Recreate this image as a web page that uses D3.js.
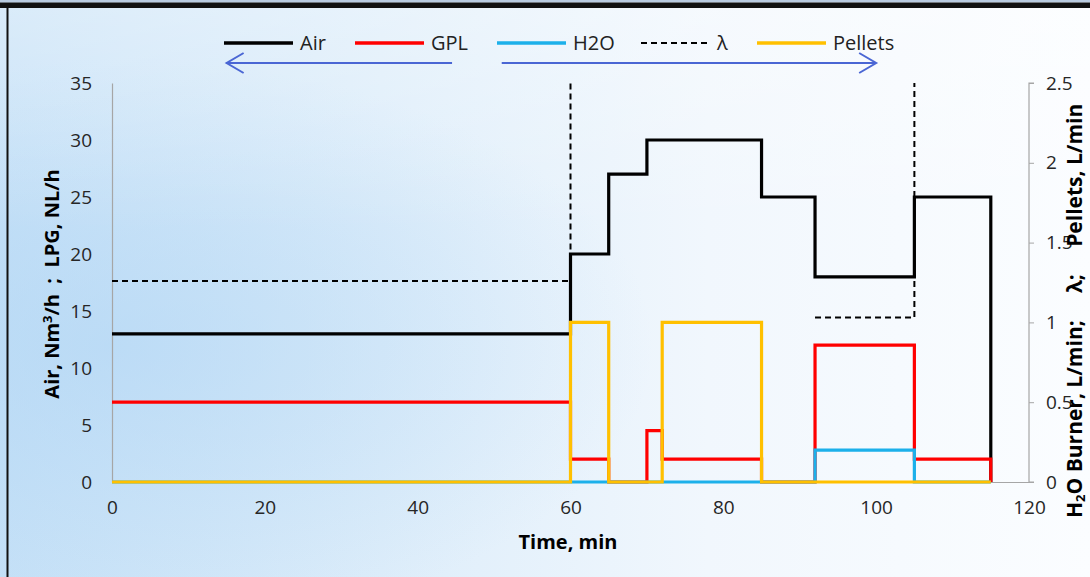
<!DOCTYPE html>
<html>

<head>
	<title>Step test</title>
	<meta charset="UTF-8">
	<script src="https://d3js.org/d3.v7.min.js"></script>
	<style>
		body { margin: 0; overflow: hidden; }
		text { font-family: "Open Sans", sans-serif; }
	</style>
</head>

<body>
	<svg width="1090" height="577"></svg>
	<script>
		var width = 1090;
		var height = 577;

		// step series: time where each level starts, and the level
		const airT = [0, 60, 65, 70, 85, 92, 105, 115];
		const airV = [13, 20, 27, 30, 25, 18, 25, 0];

		const gplT = [0, 60, 65, 70, 72, 85, 92, 105, 115];
		const gplV = [7, 2, 0, 4.5, 2, 0, 12, 2, 0];

		const h2oT = [0, 92, 105, 115];
		const h2oV = [0, 0.2, 0, 0];

		const pelletsT = [0, 60, 65, 72, 85, 115];
		const pelletsV = [0, 1, 0, 1, 0, 0];

		// lambda goes off the top (no fuel) -> NaN breaks the line
		const lambdaT = [0, 60, 60, 60, 92, 105, 105];
		const lambdaV = [1.26, 1.26, 2.5, NaN, 1.03, 1.03, 2.5];

		const xTicks = [0, 20, 40, 60, 80, 100, 120];
		const yLeftTicks = [0, 5, 10, 15, 20, 25, 30, 35];
		const yRightTicks = [0, 0.5, 1, 1.5, 2, 2.5];

		const legendNames = ["Air", "GPL", "H2O", "\u03bb", "Pellets"];

		const svg = d3.select("svg");

		// background like the slide
		const defs = svg.append("defs");
		const lg = defs.append("linearGradient").attr("id", "bg")
			.attr("x1", "0").attr("y1", "0").attr("x2", "1").attr("y2", "0");
		lg.append("stop").attr("offset", "0%").attr("stop-color", "#c6e1f7");
		lg.append("stop").attr("offset", "35%").attr("stop-color", "#ddedfa");
		lg.append("stop").attr("offset", "65%").attr("stop-color", "#f1f7fd");
		lg.append("stop").attr("offset", "100%").attr("stop-color", "#fbfdff");
		const rg = defs.append("radialGradient").attr("id", "glow")
			.attr("cx", "0.1").attr("cy", "0.6").attr("r", "0.5");
		rg.append("stop").attr("offset", "0%").attr("stop-color", "#aed4f4").attr("stop-opacity", 0.55);
		rg.append("stop").attr("offset", "100%").attr("stop-color", "#aed4f4").attr("stop-opacity", 0);
		const tg = defs.append("linearGradient").attr("id", "topfade")
			.attr("x1", "0").attr("y1", "0").attr("x2", "0").attr("y2", "1");
		tg.append("stop").attr("offset", "0%").attr("stop-color", "#ffffff").attr("stop-opacity", 0.35);
		tg.append("stop").attr("offset", "40%").attr("stop-color", "#ffffff").attr("stop-opacity", 0);

		svg.append("rect").attr("width", width).attr("height", height).attr("fill", "url(#bg)");
		svg.append("rect").attr("width", width).attr("height", height).attr("fill", "url(#glow)");
		svg.append("rect").attr("width", width).attr("height", height).attr("fill", "url(#topfade)");

		// frame of the slide
		svg.append("rect").attr("x", 0).attr("y", 0).attr("width", width).attr("height", 2.5).attr("fill", "#b9cbe0");
		svg.append("rect").attr("x", 0).attr("y", 2.5).attr("width", width).attr("height", 5.5).attr("fill", "#111");
		svg.append("rect").attr("x", 6.5).attr("y", 8).attr("width", 2).attr("height", height).attr("fill", "#111");

		// scales
		const x = d3.scaleLinear().domain([0, 120]).range([112, 1029]);
		const yL = d3.scaleLinear().domain([0, 35]).range([482, 83]);
		const yR = d3.scaleLinear().domain([0, 2.5]).range([482, 83]);

		// axes
		const gx = svg.append("g").attr("transform", "translate(0,482)")
			.call(d3.axisBottom(x).tickValues(xTicks).tickSize(0).tickPadding(19));
		const gl = svg.append("g").attr("transform", "translate(112,0)")
			.call(d3.axisLeft(yL).tickValues(yLeftTicks).tickSize(0).tickPadding(20));
		const gr = svg.append("g").attr("transform", "translate(1029,0)")
			.call(d3.axisRight(yR).tickValues(yRightTicks).tickSize(5).tickPadding(12)
				.tickFormat(d3.format("")));

		[gx, gl, gr].forEach(g => {
			g.select(".domain").attr("stroke", "#a6a6a6").attr("stroke-width", 1.2);
			g.selectAll(".tick line").attr("stroke", "#a6a6a6");
			g.selectAll(".tick text").attr("fill", "#262626").style("font-size", "19px");
		});
		gr.select(".domain").attr("d", "M5,83H0V482H5");

		// axis titles
		svg.append("text")
			.attr("x", 568).attr("y", 549)
			.attr("text-anchor", "middle")
			.style("font-size", "20px").style("font-weight", "bold")
			.text("Time, min");

		svg.append("text")
			.attr("transform", "translate(59,284) rotate(-90)")
			.attr("text-anchor", "middle")
			.style("font-size", "20px").style("font-weight", "bold")
			.html("Air, Nm<tspan dy='-7' style='font-size:13px'>3</tspan><tspan dy='7'>/h&#160;&#160;;&#160;&#160;LPG, NL/h</tspan>");

		svg.append("text")
			.attr("transform", "translate(1082,518) rotate(-90)")
			.attr("text-anchor", "start")
			.style("font-size", "21px").style("font-weight", "bold")
			.html("H<tspan dy='3' style='font-size:13px'>2</tspan><tspan dy='-3'>O Burner, L/min;&#160;&#160;&#160;&#160;&#160;\u03bb;&#160;&#160;&#160;&#160;&#160;Pellets, L/min</tspan>");

		// lines
		function pts(T, V) { return T.map((t, i) => [t, V[i]]); }

		const stepL = d3.line().x(d => x(d[0])).y(d => yL(d[1])).curve(d3.curveStepAfter);
		const stepR = d3.line().x(d => x(d[0])).y(d => yR(d[1])).curve(d3.curveStepAfter);
		const lamLine = d3.line().defined(d => !isNaN(d[1]))
			.x(d => x(d[0])).y(d => yR(d[1]));

		svg.append("path").datum(pts(lambdaT, lambdaV))
			.attr("d", lamLine).attr("fill", "none")
			.attr("stroke", "#000").attr("stroke-width", 2).attr("stroke-dasharray", "6,4");

		svg.append("path").datum(pts(airT, airV))
			.attr("d", stepL).attr("fill", "none")
			.attr("stroke", "#000").attr("stroke-width", 3.2);

		svg.append("path").datum(pts(gplT, gplV))
			.attr("d", stepL).attr("fill", "none")
			.attr("stroke", "#ff0000").attr("stroke-width", 3.2);

		svg.append("path").datum(pts(h2oT, h2oV))
			.attr("d", stepR).attr("fill", "none")
			.attr("stroke", "#1cb0ea").attr("stroke-width", 3.2);

		svg.append("path").datum(pts(pelletsT, pelletsV))
			.attr("d", stepR).attr("fill", "none")
			.attr("stroke", "#ffc000").attr("stroke-width", 3.2);

		// legend
		const legendX = [224, 355, 497, 641, 757];
		const legendColor = ["#000", "#ff0000", "#1cb0ea", "#000", "#ffc000"];
		const lgd = svg.append("g").selectAll("g")
			.data(legendNames)
			.enter()
			.append("g")
			.attr("transform", (d, i) => "translate(" + legendX[i] + ",43)");
		lgd.append("line")
			.attr("x1", 0).attr("x2", 69).attr("y1", 0).attr("y2", 0)
			.attr("stroke", (d, i) => legendColor[i])
			.attr("stroke-width", (d, i) => i == 3 ? 2 : 3.5)
			.attr("stroke-dasharray", (d, i) => i == 3 ? "6,4" : null);
		lgd.append("text")
			.attr("x", 76)
			.attr("y", 7)
			.attr("fill", "#222")
			.style("font-size", "20px")
			.text(d => d);

		// arrows under the legend
		const arrowColor = "#4a66d4";
		const arrowY = 63;
		const arrows = [[44.5, 15], [51, 100]];
		arrows.forEach(a => {
			const x0 = x(a[0]), x1 = x(a[1]);
			const dir = x1 > x0 ? -1 : 1;
			svg.append("path")
				.attr("d", "M" + x0 + "," + arrowY + "H" + x1 +
					"M" + (x1 + dir * 17) + "," + (arrowY - 10) + "L" + x1 + "," + arrowY +
					"L" + (x1 + dir * 17) + "," + (arrowY + 10))
				.attr("fill", "none")
				.attr("stroke", arrowColor).attr("stroke-width", 2);
		});
	</script>
</body>

</html>
